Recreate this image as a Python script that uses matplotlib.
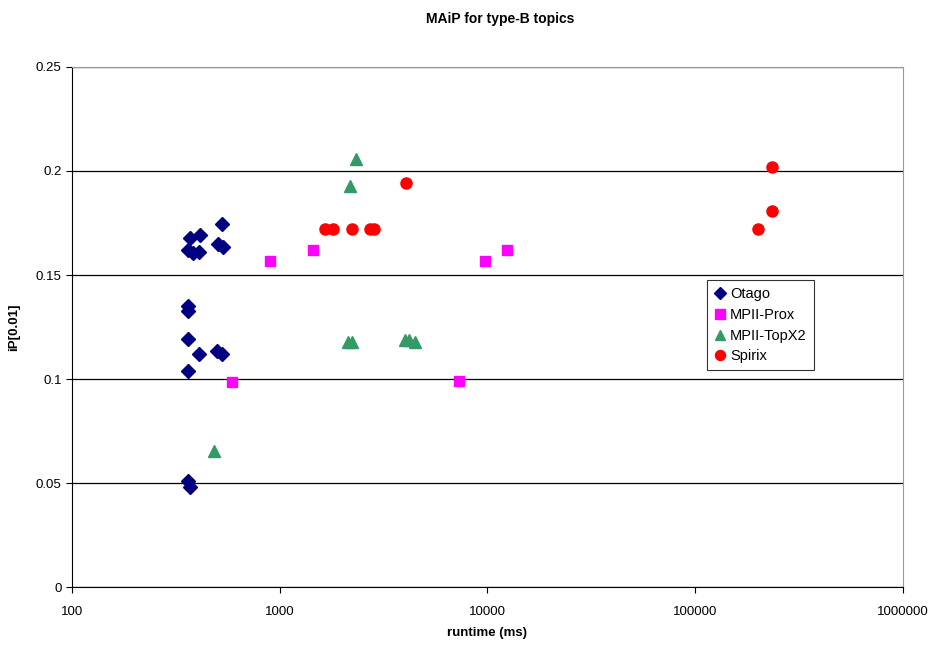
import matplotlib.pyplot as plt

plt.rcParams['font.family'] = ['Liberation Sans', 'DejaVu Sans']

# runtime (ms) and iP[0.01] per run
otago_x = [527, 370, 413, 505, 533, 362, 382, 408, 362, 362, 362, 408, 499, 527, 362, 362, 370]
otago_y = [0.1745, 0.1678, 0.1692, 0.1649, 0.1635, 0.162, 0.1606, 0.161,
           0.1351, 0.1327, 0.1192, 0.112, 0.1135, 0.112, 0.1038, 0.051, 0.048]

prox_x = [589, 898, 1446, 9728, 12410, 7290]
prox_y = [0.0986, 0.1567, 0.162, 0.1567, 0.162, 0.099]

topx_x = [483, 2328, 2178, 2132, 2235, 4008, 4192, 4478]
topx_y = [0.0654, 0.2058, 0.1928, 0.1178, 0.1178, 0.1188, 0.1188, 0.1178]

spirix_x = [4054, 1651, 1805, 2227, 2719, 2843, 234000, 234000, 200500]
spirix_y = [0.1942, 0.172, 0.172, 0.172, 0.172, 0.172, 0.2019, 0.1808, 0.172]

fig = plt.figure(figsize=(9.3, 6.46), dpi=100)
ax = fig.add_axes([0.0774, 0.0913, 0.8935, 0.8050])

ax.plot(otago_x, otago_y, 'D', color='#000080', markersize=6.8, linestyle='none', label='Otago')
ax.plot(prox_x, prox_y, 's', color='#FF00FF', markersize=7.5, linestyle='none', label='MPII-Prox')
ax.plot(topx_x, topx_y, '^', color='#339966', markersize=8, linestyle='none', label='MPII-TopX2')
ax.plot(spirix_x, spirix_y, 'o', color='#FF0000', markersize=8, linestyle='none', label='Spirix')

ax.set_xscale('log')
ax.set_xlim(100, 1000000)
ax.set_ylim(0, 0.25)
ax.set_xticks([100, 1000, 10000, 100000, 1000000])
ax.set_xticklabels(['100', '1000', '10000', '100000', '1000000'])
ax.minorticks_off()
ax.set_yticks([0, 0.05, 0.1, 0.15, 0.2, 0.25])
ax.set_yticklabels(['0', '0.05', '0.1', '0.15', '0.2', '0.25'])
ax.tick_params(direction='out', length=4, labelsize=9.5, width=0.8)
ax.tick_params(axis='x', pad=10)

# horizontal gridlines only, like the Excel original
ax.yaxis.grid(True, color='black', linewidth=0.9)
ax.set_axisbelow(True)
for side in ['top', 'right']:
    ax.spines[side].set_color('#999999')
for side in ['left', 'bottom']:
    ax.spines[side].set_color('black')

ax.set_xlabel('runtime (ms)', fontsize=9.5, fontweight='bold', labelpad=6)
ax.set_ylabel('iP[0.01]', fontsize=9.5, fontweight='bold', labelpad=11)
fig.text(0.538, 0.970, 'MAiP for type-B topics', fontsize=10, fontweight='bold',
         ha='center', va='center')

leg = ax.legend(loc='upper left', bbox_to_anchor=(0.764, 0.590), borderaxespad=0,
                fancybox=False, edgecolor='#333333', fontsize=10.5, handlelength=0.8,
                handletextpad=0.3, markerscale=0.9, framealpha=1, borderpad=0.5,
                labelspacing=0.45)
leg.get_frame().set_linewidth(0.8)

fig.savefig('out.png', dpi=100)
